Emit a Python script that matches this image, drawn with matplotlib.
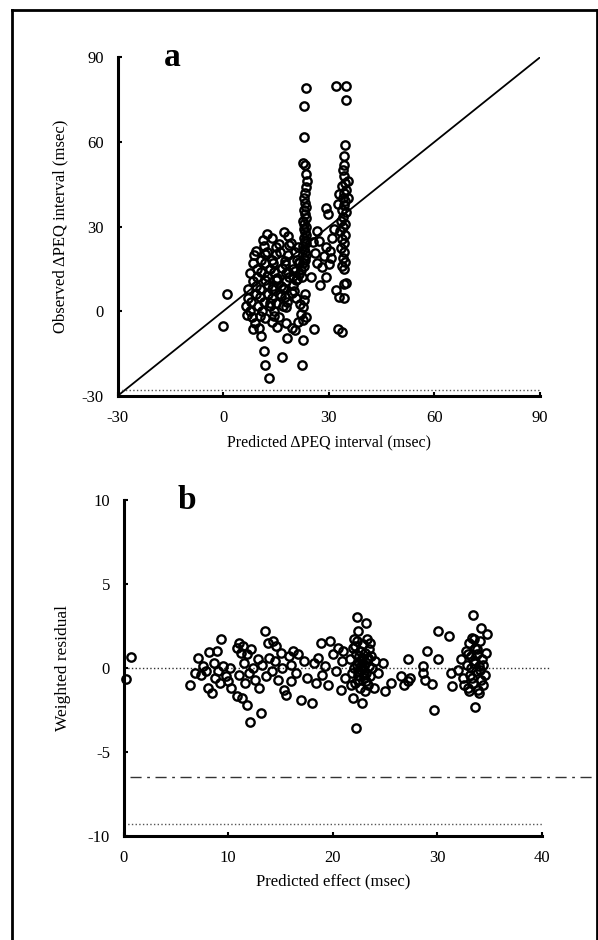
import matplotlib
matplotlib.use("Agg")
import matplotlib.pyplot as plt
from matplotlib.lines import Line2D

plt.rcParams['font.family'] = ['Liberation Serif', 'DejaVu Serif']
plt.rcParams['axes.unicode_minus'] = False

# panel a: predicted vs observed delta PEQ interval (msec)
pred_a = [1.0, 0.0,
          11.2, 13.9, 15.7, 18.3, 19.1, 12.4, 17.2,
          9.3, 11.6, 12.5, 14.9, 16.1, 18.6, 20.3, 21.2,
          8.6, 10.7, 11.8, 13.9, 15.0, 17.4, 18.3, 20.9,
          8.4, 9.6, 11.9, 13.4, 14.2, 16.7, 17.6, 19.8, 21.4,
          7.5, 9.7, 10.6, 12.4, 14.5, 15.3, 17.8, 18.6, 20.4,
          8.3, 9.4, 11.7, 12.6, 14.9, 16.5, 17.7, 19.9, 20.6,
          7.0, 9.2, 10.3, 12.6, 13.7, 16.2, 17.2, 19.5,
          6.9, 8.0, 10.5, 11.5, 13.9, 15.0, 17.4, 18.2, 20.6,
          6.4, 7.5, 9.8, 11.1, 13.3, 14.5, 16.9,
          6.8, 8.1, 10.5, 11.8, 14.4, 15.7,
          8.9, 10.1, 13.8, 15.3, 17.7, 19.6,
          10.8, 8.3, 11.5, 11.8, 13.1, 16.8, 18.0, 22.3, 22.7, 25.8,
          20.5, 21.2, 22.0, 22.6, 23.0, 23.3, 21.8, 22.5, 23.5,
          23.5, 23.0, 22.9, 22.6, 23.2, 23.6, 23.8, 23.5, 23.2, 22.9,
          23.3, 23.6, 22.8, 23.1, 23.5, 22.7, 23.0, 23.4, 22.9, 23.2,
          23.6, 22.8, 23.1, 23.4, 22.7, 23.0, 23.3, 23.6, 22.9, 23.2,
          22.6, 23.0, 22.2, 21.5, 21.0, 22.3,
          25.5, 26.6, 27.2, 28.0, 27.5, 29.2, 30.0, 30.3, 29.3, 29.2,
          29.7, 31.0, 31.5, 30.5, 26.0, 28.5, 25.0, 26.5,
          31.9, 35.0, 35.0, 34.5, 34.2, 34.4, 34.1, 34.3, 34.6, 33.8,
          34.9, 34.2, 33.9, 34.7, 34.3, 33.6, 34.8, 34.1, 33.5, 34.5,
          34.0, 33.2, 34.6, 33.8, 34.2, 33.5, 34.4, 33.9, 34.6, 33.7,
          34.2, 34.9, 34.3, 31.9, 33.0, 34.3, 32.7, 33.6, 35.5, 35.3,
          32.8, 32.5,
          15.2, 16.9, 18.4, 14.0, 19.8, 21.6, 16.4, 13.2, 20.1, 17.9]
obs_a = [6.0, -5.3,
         25.4, 26.1, 23.8, 26.5, 24.1, 27.2, 28.0,
         21.3, 23.2, 20.9, 22.9, 21.1, 23.4, 20.8, 22.6,
         19.8, 18.1, 20.3, 18.2, 20.2, 17.7, 19.8, 18.3,
         16.9, 15.0, 17.1, 15.1, 17.0, 15.2, 16.8, 14.9, 17.2,
         13.6, 12.0, 14.0, 12.3, 13.9, 11.9, 13.6, 12.1, 14.1,
         10.8, 9.0, 10.9, 9.2, 10.9, 9.0, 10.7, 9.1, 11.0,
         7.8, 6.1, 7.9, 6.2, 7.7, 6.0, 7.9, 6.3,
         4.8, 3.1, 5.0, 3.3, 4.8, 3.0, 5.0, 3.2, 4.7,
         1.8, 0.0, 2.0, 0.2, 1.7, 0.1, 1.9,
         -1.5, -2.2, -1.8, -2.4, -1.6, -2.1,
         -4.2, -6.0, -4.0, -5.8, -4.3, -6.1,
         -8.8, -6.2, -14.3, -19.0, -23.7, -16.1, -9.6, -19.0, -10.3, -6.4,
         -6.6, -4.0, -1.0, 1.5, 4.0, 6.0, 2.5, -3.0, -2.0,
         79.0, 72.6, 61.7, 52.5, 52.0, 48.5, 46.0, 44.0, 42.0, 40.0,
         38.5, 37.0, 36.0, 34.5, 33.0, 32.0, 31.0, 30.0, 29.0, 28.0,
         27.0, 26.0, 25.0, 24.0, 23.0, 22.0, 21.0, 20.0, 19.0, 18.0,
         17.0, 16.0, 14.5, 13.0, 11.5, 12.0,
         24.5, 17.0, 25.0, 15.5, 9.3, 12.1, 16.8, 21.5, 22.6, 36.5,
         34.5, 26.0, 29.0, 19.0, 20.5, 19.5, 12.0, 28.5,
         79.7, 79.7, 75.0, 59.0, 55.0, 52.0, 50.0, 48.0, 45.5, 44.5,
         43.0, 42.0, 40.0, 39.0, 37.5, 36.0, 35.0, 33.5, 32.0, 31.0,
         30.0, 28.5, 27.0, 25.5, 24.0, 22.5, 21.0, 19.0, 17.5, 16.0,
         15.0, 10.0, 9.5, 7.5, 5.0, 4.5, -6.2, -7.4, 40.0, 46.0,
         41.5, 38.0,
         11.5, 8.2, 14.0, 8.8, 12.6, 17.5, 5.5, 2.8, 7.0, 1.5]

# panel b: predicted effect vs weighted residual
pred_b = [0.7, 0.2,
          6.3, 6.8, 7.1, 7.4, 7.6, 7.9, 8.1, 8.2, 8.4, 8.6, 8.7, 8.9, 9.0, 9.3, 9.2, 9.5, 9.8, 10.0, 10.2, 10.3,
          10.8, 11.0, 11.2, 11.4, 10.8, 11.3, 11.8, 12.1, 13.1, 11.5, 11.8, 12.0, 12.2, 12.4, 12.6, 12.8, 11.0, 11.6, 12.9, 13.2,
          13.5, 13.8, 14.3, 14.6, 13.6, 13.9, 14.2, 14.5, 14.8, 15.0, 15.3, 15.5, 15.8, 16.0, 16.2, 16.5, 16.7, 17.0, 17.2, 17.5, 15.1, 16.0,
          18.0, 18.2, 18.4, 18.6, 18.9, 19.0, 19.3, 19.7, 19.5, 20.0, 20.3, 20.5, 20.8, 20.9, 21.2, 21.0,
          22.3, 23.2, 22.4, 22.2, 21.9, 22.8,
          21.6, 21.8, 21.9, 22.0, 22.1, 22.2, 22.3, 22.4, 22.5, 22.6, 22.6, 22.7, 22.8, 22.9, 23.0, 23.0, 23.1, 23.2,
          23.3, 23.3, 23.4, 23.5, 23.5, 23.6, 23.7, 23.8, 23.9, 24.0, 22.0, 22.5, 21.7, 23.1, 22.9, 22.3, 23.6,
          22.4, 22.8, 23.2, 22.1, 23.4, 22.7, 23.0, 22.5,
          24.8, 25.6, 26.5, 27.2, 27.2, 26.8, 27.4, 28.6, 28.6, 28.8, 29.0, 29.5, 29.7, 30.1, 30.1, 31.1, 31.3, 31.4, 24.3, 25.0,
          33.4, 34.2, 34.8, 33.6,
          32.0, 32.3, 32.5, 32.7, 32.8, 32.9, 33.0, 33.1, 33.2, 33.3, 33.4, 33.5, 33.6, 33.7, 33.8, 33.9, 34.0, 34.1,
          34.2, 34.3, 34.4, 34.6, 34.7, 33.0, 32.6, 33.5, 34.0, 33.2,
          33.3, 33.8, 34.1, 33.6, 32.9, 34.4]
resid_b = [0.65, -0.65,
           -1.0, -0.3, 0.6, -0.4, 0.1, -0.2, -1.2, 0.95, -1.5, 0.3, -0.6, 1.0, -0.2, 1.7, -0.9, 0.1, -0.5, -0.8, 0.0, -1.2,
           1.2, 1.5, 0.9, 1.3, -1.7, -1.8, -2.2, -3.25, -2.7, 0.3, 0.8, -0.3, 1.1, 0.0, -0.7, 0.5, -0.4, -0.9, -1.2, 0.2,
           2.2, 1.5, 1.6, 1.3, -0.5, 0.6, -0.2, 0.4, -0.7, 0.9, -1.3, -1.6, 0.7, 0.2, 1.0, -0.3, 0.8, -1.9, 0.4, -0.6, 0.0, -0.8,
           -2.1, 0.3, -0.9, 0.6, 1.5, -0.4, 0.1, 1.6, -1.0, 0.8, -0.2, 1.2, -1.3, 0.4, -0.6, 1.0,
           3.05, 2.7, 2.2, -3.6, -1.8, -2.1,
           0.5, -0.3, 1.2, 0.0, -0.9, 0.8, 1.6, -0.4, 0.3, 1.0, -1.2, -0.1, 0.6, 1.4, -0.6, 0.2, 0.9, -0.3,
           1.7, 0.5, -1.0, 0.1, 1.1, -0.5, 0.7, 0.0, -1.2, 0.4, 1.7, -0.7, -1.0, -1.4, 0.0, 0.2, 1.5,
           -0.2, 0.4, -0.8, 1.3, 0.6, 0.1, -0.4, 0.7,
           0.3, -0.9, -0.5, -0.8, 0.5, -1.0, -0.6, 0.1, -0.3, -0.7, 1.0, -0.95, -2.5, 0.5, 2.2, 1.9, -0.3, -1.1, -0.3, -1.4,
           3.15, 2.35, 2.0, -2.35,
           -0.1, 0.5, -0.6, 1.0, 0.2, -1.2, 1.5, -0.4, 0.7, 1.8, -0.9, 0.3, 1.2, -0.2, 0.8, -1.3, 0.1, 1.6,
           -0.7, 0.5, -1.0, -0.4, 0.9, -1.4, -1.0, 1.7, -1.5, 0.0,
           -0.6, 1.1, -0.1, 0.4, 0.8, 0.2]

ticks_a = [-30, 0, 30, 60, 90]
ticks_bx = [0, 10, 20, 30, 40]
ticks_by = [-10, -5, 0, 5, 10]
cutoff_b = -6.5

fig = plt.figure(figsize=(5.98, 9.40), dpi=100)

mk = dict(linestyle='none', marker='o', markersize=6.0, markerfacecolor='none',
          markeredgecolor='black', markeredgewidth=1.7)


def style_axes(ax):
    for side in ['top', 'right']:
        ax.spines[side].set_visible(False)
    for side in ['left', 'bottom']:
        ax.spines[side].set_linewidth(2.2)
    ax.tick_params(direction='in', length=3, width=1.5, labelsize=12, pad=10)


# panel a
ax1 = fig.add_axes([0.197, 0.579, 0.706, 0.360])
ax1.plot([-30, 90], [-30, 90], color='black', linewidth=1.3)
ax1.plot(pred_a, obs_a, **mk)
ax1.plot([-30, 90], [-28, -28], color='#555555', linestyle=':', linewidth=1.0)
ax1.set_xlim(-30, 90)
ax1.set_ylim(-30, 90)
ax1.set_xticks(ticks_a)
ax1.set_yticks(ticks_a)
style_axes(ax1)
ax1.set_xlabel('Predicted ΔPEQ interval (msec)', fontsize=11.5, labelpad=6)
ax1.set_ylabel('Observed ΔPEQ interval (msec)', fontsize=12, labelpad=10)
ax1.text(0.13, 1.0, 'a', transform=ax1.transAxes, fontsize=24, fontweight='bold',
         ha='center', va='center')

# panel b
ax2 = fig.add_axes([0.207, 0.111, 0.699, 0.357])
ax2.plot([0, 40.7], [0, 0], color='#333333', linestyle=':', linewidth=1.0, clip_on=False)
ax2.plot([0.6, 45], [cutoff_b, cutoff_b], color='#333333', linestyle=(0, (8, 4, 2, 4)),
         linewidth=1.0, clip_on=False)
ax2.plot([0, 40], [-9.3, -9.3], color='#555555', linestyle=':', linewidth=1.0)
ax2.plot(pred_b, resid_b, clip_on=False, **mk)
ax2.set_xlim(0, 40)
ax2.set_ylim(-10, 10)
ax2.set_xticks(ticks_bx)
ax2.set_yticks(ticks_by)
style_axes(ax2)
ax2.set_xlabel('Predicted effect (msec)', fontsize=12, labelpad=6)
ax2.set_ylabel('Weighted residual', fontsize=12.5, labelpad=12)
ax2.text(0.15, 1.0, 'b', transform=ax2.transAxes, fontsize=24, fontweight='bold',
         ha='center', va='center')

# outer frame of the figure (left, top, right)
fig.add_artist(Line2D([0.02, 0.02], [0.0, 0.989], color='black', linewidth=2))
fig.add_artist(Line2D([0.02, 0.998], [0.989, 0.989], color='black', linewidth=2))
fig.add_artist(Line2D([0.998, 0.998], [0.0, 0.989], color='black', linewidth=2))

fig.savefig('out.png', dpi=100)
